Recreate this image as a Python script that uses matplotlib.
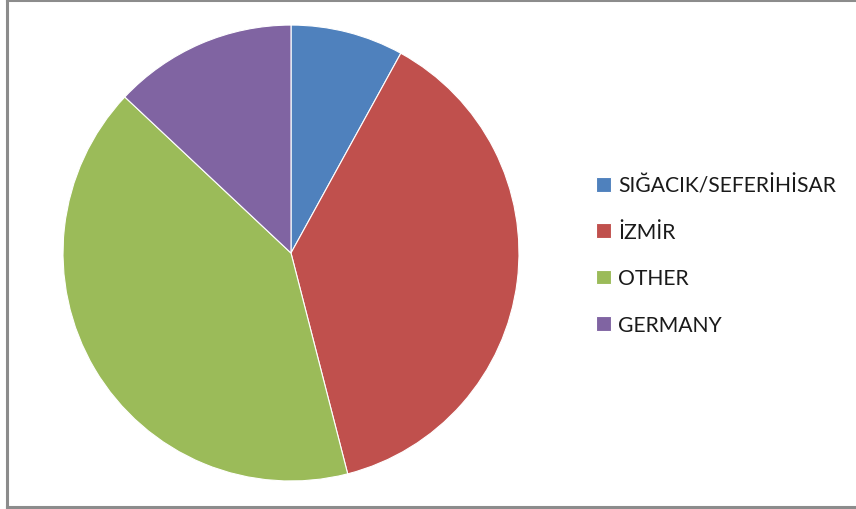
import matplotlib
matplotlib.use("Agg")
import matplotlib.pyplot as plt
from matplotlib.lines import Line2D

# share of visitors by origin
labels = ["SIĞACIK/SEFERİHİSAR", "İZMİR", "OTHER", "GERMANY"]
shares = [8, 38, 41, 13]
colors = ["#4F81BD", "#C0504D", "#9BBB59", "#8064A2"]

plt.rcParams['font.family'] = ['Lato', 'DejaVu Sans']

fig = plt.figure(figsize=(8.56, 5.10), dpi=100)

# chart area frame
frame = "#8C8C8C"
fig.add_artist(Line2D([7 / 856, 7 / 856], [0.004, 0.999], color=frame, lw=2.2, transform=fig.transFigure))
fig.add_artist(Line2D([7 / 856, 1.0], [0.999, 0.999], color=frame, lw=2.2, transform=fig.transFigure))
fig.add_artist(Line2D([7 / 856, 1.0], [0.004, 0.004], color=frame, lw=2.2, transform=fig.transFigure))

ax = fig.add_axes([0.0736, 0.0549, 0.5327, 0.894])
wedges, _ = ax.pie(shares, colors=colors, startangle=90, counterclock=False,
                   wedgeprops=dict(edgecolor="white", linewidth=0.8))
ax.set_xlim(-1, 1)
ax.set_ylim(-1, 1)
ax.set_aspect("equal")

fig.legend(wedges, labels, loc="center left", bbox_to_anchor=(0.674, 0.498),
           frameon=False, fontsize=15.2, handlelength=0.7, handleheight=0.7,
           handletextpad=0.35, labelspacing=1.25, labelcolor="#1a1a1a")

fig.savefig("out.png", dpi=100)
